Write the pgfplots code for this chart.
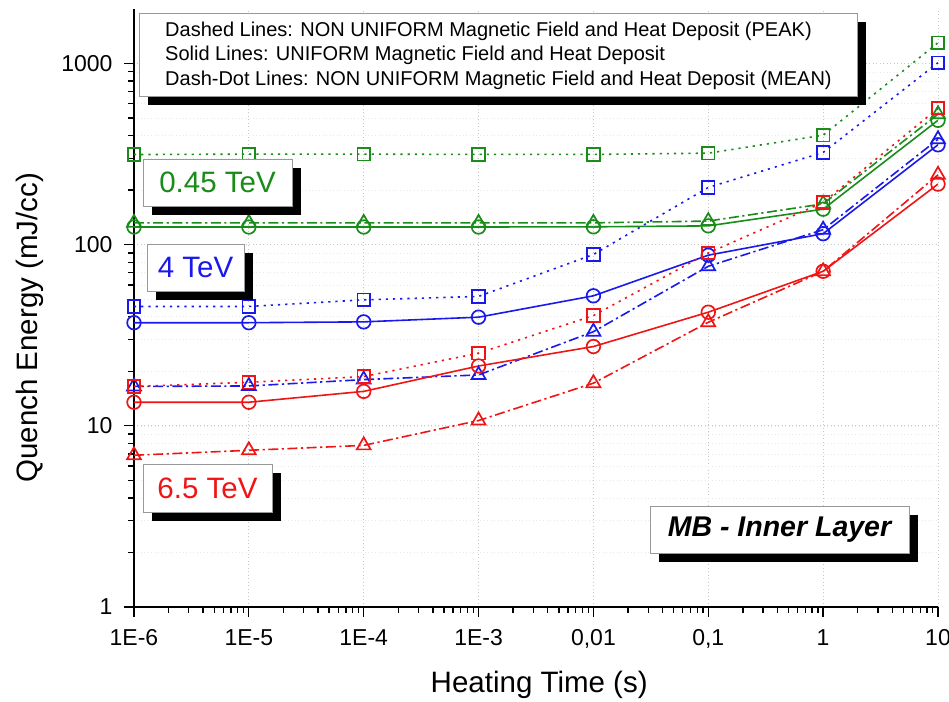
\documentclass[border=0pt]{standalone}
\usepackage{fontspec}
\setmainfont{Liberation Sans}
\usepackage{pgfplots}
\pgfplotsset{compat=1.18}
\definecolor{cg}{RGB}{25,140,25}
\definecolor{cb}{RGB}{25,25,235}
\definecolor{cr}{RGB}{240,20,20}
\newcommand{\shbox}[5]{%
  \fill[black] (#1+9,#2-9) rectangle (#3+9,#4-9);
  \filldraw[fill=white,draw=gray!80,line width=0.8pt] (#1,#2) rectangle (#3,#4);
  #5}
\begin{document}
\begin{tikzpicture}[x=1pt,y=1pt]
\begin{axis}[
  scale only axis, width=804pt, height=598pt,
  xmode=log, ymode=log,
  xmin=1e-6, xmax=10, ymin=1, ymax=2000,
  axis lines*=left,
  axis line style={line width=1.6pt,black},
  tick align=outside,
  major tick length=10pt, minor tick length=6pt,
  every tick/.style={black,line width=1.3pt},
  xtick={1e-6,1e-5,1e-4,1e-3,1e-2,1e-1,1,10},
  xticklabels={1E-6,1E-5,1E-4,1E-3,{0,01},{0,1},1,10},
  ytick={1,10,100,1000},
  yticklabels={1,10,100,1000},
  /pgf/number format/assume math mode=true,
  ticklabel style={font=\fontsize{23}{27}\selectfont},
  xticklabel style={yshift=-9pt},
  yticklabel style={xshift=-8pt},
  grid=major,
  yminorgrids=true,
  major grid style={gray!45,line width=0.8pt,dash pattern=on 1pt off 2.5pt},
  minor grid style={gray!18,line width=0.6pt,dash pattern=on 1pt off 2.5pt},
  xlabel={Heating Time (s)},
  ylabel={Quench Energy (mJ/cc)},
  label style={font=\fontsize{29.5}{33}\selectfont},
  xlabel style={at={(axis description cs:0.504,-0.130)},anchor=center},
  ylabel style={at={(axis description cs:-0.130,0.467)},anchor=center},
  every axis plot/.append style={line width=1.6pt},
  sq/.style={mark=square,mark size=6.3pt,mark options={solid,fill=white,line width=1.7pt},dash pattern=on 2.2pt off 5pt},
  ci/.style={mark=o,mark size=6.8pt,mark options={solid,fill=white,line width=1.7pt},solid},
  tr/.style={mark=triangle,mark size=8pt,mark options={solid,fill=white,line width=1.7pt},dash pattern=on 10pt off 3.5pt on 2.2pt off 3.5pt},
]
% 0.45 TeV (green)
\addplot[cg,sq] coordinates {(1e-6,314.5) (1e-5,316) (1e-4,316) (1e-3,315) (1e-2,315) (1e-1,320) (1,402) (10,1302)};
\addplot[cg,ci] coordinates {(1e-6,125.2) (1e-5,125.2) (1e-4,125.2) (1e-3,125.2) (1e-2,125.5) (1e-1,127) (1,157) (10,486)};
\addplot[cg,tr] coordinates {(1e-6,132) (1e-5,132) (1e-4,132) (1e-3,132) (1e-2,132) (1e-1,135) (1,168) (10,525)};
% 4 TeV (blue)
\addplot[cb,sq] coordinates {(1e-6,45.6) (1e-5,45.6) (1e-4,49.6) (1e-3,51.8) (1e-2,88.3) (1e-1,207) (1,323) (10,1010)};
\addplot[cb,ci] coordinates {(1e-6,37.1) (1e-5,37.1) (1e-4,37.5) (1e-3,39.8) (1e-2,52.2) (1e-1,87.5) (1,115) (10,356)};
\addplot[cb,tr] coordinates {(1e-6,16.5) (1e-5,16.6) (1e-4,18.0) (1e-3,19.1) (1e-2,33.1) (1e-1,76) (1,121) (10,382)};
% 6.5 TeV (red)
\addplot[cr,sq] coordinates {(1e-6,16.5) (1e-5,17.4) (1e-4,18.7) (1e-3,25.2) (1e-2,40.6) (1e-1,90) (1,171) (10,566)};
\addplot[cr,ci] coordinates {(1e-6,13.5) (1e-5,13.5) (1e-4,15.5) (1e-3,21.4) (1e-2,27.4) (1e-1,42.4) (1,71.3) (10,216)};
\addplot[cr,tr] coordinates {(1e-6,6.88) (1e-5,7.33) (1e-4,7.8) (1e-3,10.7) (1e-2,17.2) (1e-1,37.3) (1,71.3) (10,243)};
\end{axis}
% legend text box
\shbox{5}{511}{723}{594}{}
\begin{scope}[every node/.style={anchor=west,inner sep=0pt,font=\fontsize{20}{23}\selectfont}]
\node at (31,576) {Dashed Lines: NON UNIFORM Magnetic Field and Heat Deposit (PEAK)};
\node at (31,552) {Solid Lines: UNIFORM Magnetic Field and Heat Deposit};
\node at (31,527) {Dash-Dot Lines: NON UNIFORM Magnetic Field and Heat Deposit (MEAN)};
\end{scope}
\shbox{9}{401}{158}{448}{\node[cg,font=\fontsize{29.5}{32}\selectfont] at (83.5,424.5) {0.45 TeV};}
\shbox{13}{316}{110}{363}{\node[cb,font=\fontsize{29.5}{32}\selectfont] at (61.5,339.5) {4 TeV};}
\shbox{9}{95}{138}{143}{\node[cr,font=\fontsize{29.5}{32}\selectfont] at (73.5,119) {6.5 TeV};}
\shbox{516}{54}{775}{101}{\node[font=\fontsize{28.5}{31}\bfseries\itshape\selectfont] at (645.5,77.5) {MB - Inner Layer};}
\pgfresetboundingbox
\useasboundingbox (-134,-94) rectangle (815,607);
\end{tikzpicture}
\end{document}
